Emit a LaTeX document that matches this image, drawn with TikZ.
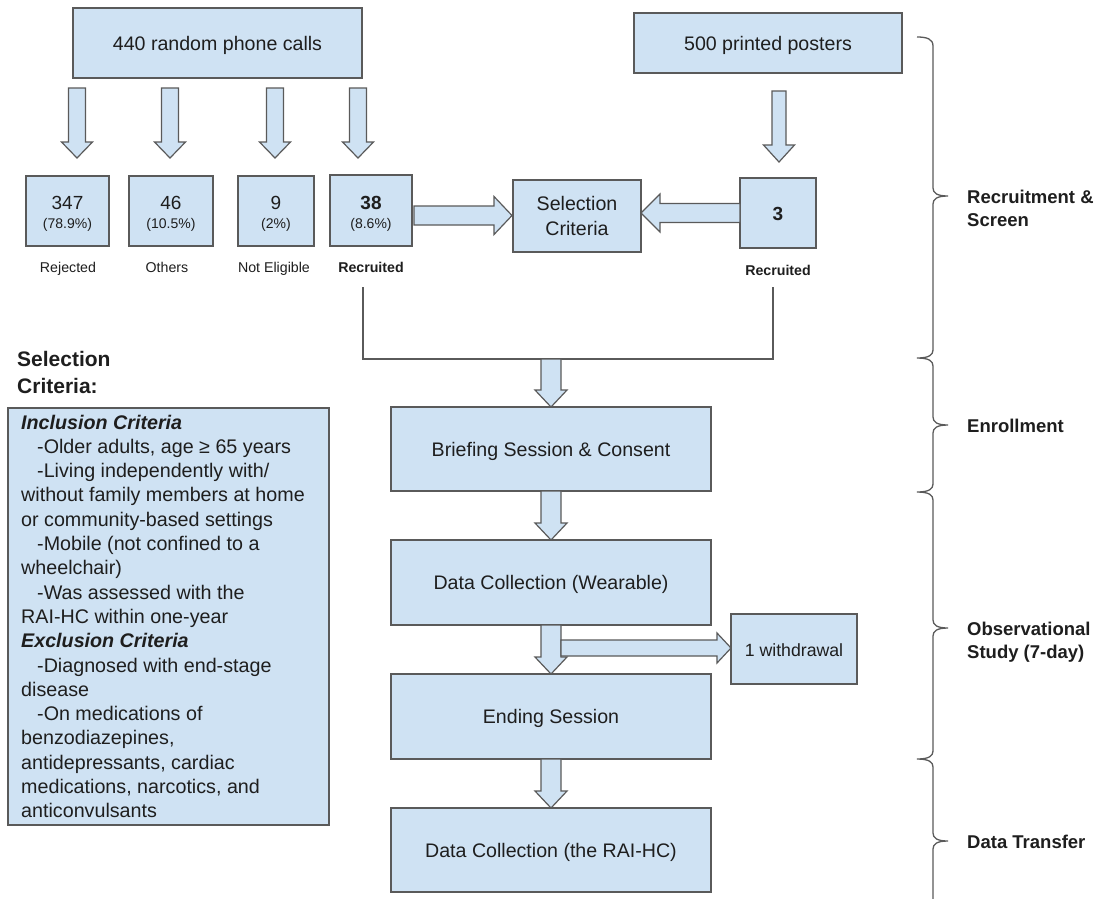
\documentclass[tikz,border=0pt]{standalone}
\usepackage{fontspec}
\setmainfont{Liberation Sans}
\definecolor{boxfill}{HTML}{CFE2F3}
\definecolor{boxline}{HTML}{5A5A5A}
\definecolor{txt}{HTML}{1E1E1E}
\newcommand\blkdown[6]{\filldraw[arrowbox] ({#1-#4},#2) -- ({#1+#4},#2) -- ({#1+#4},{#3-#6}) -- ({#1+#5},{#3-#6}) -- (#1,#3) -- ({#1-#5},{#3-#6}) -- ({#1-#4},{#3-#6}) -- cycle;}
\newcommand\blkright[6]{\filldraw[arrowbox] (#1,{#3-#4}) -- ({#2-#6},{#3-#4}) -- ({#2-#6},{#3-#5}) -- (#2,#3) -- ({#2-#6},{#3+#5}) -- ({#2-#6},{#3+#4}) -- (#1,{#3+#4}) -- cycle;}
\newcommand\blkleft[6]{\filldraw[arrowbox] (#1,{#3-#4}) -- ({#2+#6},{#3-#4}) -- ({#2+#6},{#3-#5}) -- (#2,#3) -- ({#2+#6},{#3+#5}) -- ({#2+#6},{#3+#4}) -- (#1,{#3+#4}) -- cycle;}
\begin{document}
\begin{tikzpicture}[x=1pt,y=-1pt,line join=miter,
  box/.style={draw=boxline,fill=boxfill,line width=1.3pt,inner sep=0pt},
  arrowbox/.style={draw=boxline,fill=boxfill,line width=1.2pt},
  main/.style={text=txt,inner sep=0pt,anchor=base,font=\fontsize{19.6}{24}\selectfont},
  num/.style={text=txt,inner sep=0pt,anchor=base,font=\fontsize{19}{22}\selectfont},
  pct/.style={text=txt,inner sep=0pt,anchor=base,font=\fontsize{14}{16}\selectfont},
  lab/.style={text=txt,inner sep=0pt,anchor=base,font=\fontsize{14.2}{16}\selectfont},
  blab/.style={lab,font=\fontsize{14.2}{16}\selectfont\bfseries},
  phase/.style={text=txt,inner sep=0pt,anchor=base west,font=\fontsize{18.5}{23}\selectfont\bfseries},
  crit/.style={text=txt,inner sep=0pt,anchor=base west,font=\fontsize{19.7}{24}\selectfont},
  conn/.style={draw=boxline,line width=1.3pt},
  brace/.style={draw=boxline,line width=1.3pt}]
\useasboundingbox (0,0) rectangle (1111,898);
\fill[white] (0,0) rectangle (1111,898);

% ---- top boxes
\node[box,minimum width=289pt,minimum height=70pt] (calls) at (217.5,43) {};
\node[main] (callsT) at (217.5,50) {440 random phone calls};
\node[box,minimum width=268pt,minimum height=60pt] (posters) at (768,43) {};
\node[main] (postersT) at (768,50) {500 printed posters};

% ---- down arrows from calls / posters
\blkdown{77}{88}{158}{8.5}{15.5}{16}
\blkdown{170}{88}{158}{8.5}{15.5}{16}
\blkdown{275}{88}{158}{8.5}{15.5}{16}
\blkdown{358}{88}{158}{8.5}{15.5}{16}
\blkdown{779}{91}{162}{7}{15.5}{17}

% ---- outcome boxes
\node[box,minimum width=83pt,minimum height=70pt] (b347) at (67.5,211) {};
\node[num] (b347n) at (67.5,209) {347};
\node[pct] (b347p) at (67.5,228) {(78.9\%)};
\node[lab] (rej) at (68,272) {Rejected};

\node[box,minimum width=84pt,minimum height=70pt] (b46) at (171,211) {};
\node[num] (b46n) at (171,209) {46};
\node[pct] (b46p) at (171,228) {(10.5\%)};
\node[lab] (oth) at (167,272) {Others};

\node[box,minimum width=76pt,minimum height=70pt] (b9) at (276,211) {};
\node[num] (b9n) at (276,209) {9};
\node[pct] (b9p) at (276,228) {(2\%)};
\node[lab] (noel) at (274,272) {Not Eligible};

\node[box,minimum width=82pt,minimum height=71pt] (b38) at (371,210.5) {};
\node[num,font=\fontsize{19}{22}\selectfont\bfseries] (b38n) at (371,209) {38};
\node[pct] (b38p) at (371,228) {(8.6\%)};
\node[blab] (rec1) at (371,272) {Recruited};

\node[box,minimum width=128pt,minimum height=72pt] (sel) at (577,216) {};
\node[main] (selT1) at (577,210) {Selection};
\node[main] (selT2) at (577,235) {Criteria};

\node[box,minimum width=76pt,minimum height=70pt] (b3) at (778,213) {};
\node[num,font=\fontsize{19}{22}\selectfont\bfseries] (b3n) at (778,220) {3};
\node[blab] (rec2) at (778,275) {Recruited};

% ---- horizontal arrows to selection criteria
\blkright{414}{512}{215.5}{9.5}{19}{18}
\blkleft{740}{641}{213}{9.5}{19}{19}

% ---- merge connector
\coordinate (mL) at (363,287);
\coordinate (mR) at (773,287);
\coordinate (mLb) at (363,359);
\coordinate (mRb) at (773,359);
\draw[conn] (mL) -- (mLb) -- (mRb) -- (mR);

% ---- main column
\node[box,minimum width=320pt,minimum height=84pt] (brief) at (551,449) {};
\node[main] (briefT) at (551,456) {Briefing Session \& Consent};
\node[box,minimum width=320pt,minimum height=85pt] (wear) at (551,582.5) {};
\node[main] (wearT) at (551,589.5) {Data Collection (Wearable)};
\node[box,minimum width=320pt,minimum height=85pt] (endg) at (551,716.5) {};
\node[main] (endgT) at (551,723.5) {Ending Session};
\node[box,minimum width=320pt,minimum height=84pt] (rai) at (551,850) {};
\node[main] (raiT) at (551,857) {Data Collection (the RAI-HC)};

\blkdown{551}{359}{407}{10}{16}{17}
\blkdown{551}{491}{540}{10}{16}{17}
\blkdown{551}{625}{674}{10}{16}{17}
\blkdown{551}{759}{808}{10}{16}{17}

% ---- withdrawal
\blkright{561}{731}{648}{8}{15}{14}
\node[box,minimum width=126pt,minimum height=70pt] (wd) at (794,649) {};
\node[main,font=\fontsize{17.7}{20}\selectfont] (wdT) at (794,656) {1 withdrawal};

% ---- selection criteria panel
\node[text=txt,inner sep=0pt,anchor=base west,font=\fontsize{21}{26}\selectfont\bfseries] (h1) at (17,366) {Selection};
\node[text=txt,inner sep=0pt,anchor=base west,font=\fontsize{21}{26}\selectfont\bfseries] (h2) at (17,393) {Criteria:};
\node[box,minimum width=321pt,minimum height=417pt] (crit) at (168.5,616.5) {};
\node[crit,font=\fontsize{19.7}{24}\selectfont\bfseries\itshape] (c1) at (21,429) {Inclusion Criteria};
\node[crit] (c2) at (37,453.3) {-Older adults, age ≥ 65 years};
\node[crit] (c3) at (37,477.6) {-Living independently with/};
\node[crit] (c4) at (21,501.9) {without family members at home};
\node[crit] (c5) at (21,526.2) {or community-based settings};
\node[crit] (c6) at (37,550.5) {-Mobile (not confined to a};
\node[crit] (c7) at (21,574.8) {wheelchair)};
\node[crit] (c8) at (37,599.1) {-Was assessed with the};
\node[crit] (c9) at (21,623.4) {RAI-HC within one-year};
\node[crit,font=\fontsize{19.7}{24}\selectfont\bfseries\itshape] (c10) at (21,647.7) {Exclusion Criteria};
\node[crit] (c11) at (37,672) {-Diagnosed with end-stage};
\node[crit] (c12) at (21,696.3) {disease};
\node[crit] (c13) at (37,720.6) {-On medications of};
\node[crit] (c14) at (21,744.9) {benzodiazepines,};
\node[crit] (c15) at (21,769.2) {antidepressants, cardiac};
\node[crit] (c16) at (21,793.5) {medications, narcotics, and};
\node[crit] (c17) at (21,817.8) {anticonvulsants};

% ---- phase brace
\draw[brace] (917,37) .. controls (927,37) and (933,39) .. (933,46)
  -- (933,188) .. controls (933,193) and (937,196) .. (948,196) .. controls (937,196) and (933,199) .. (933,204)
  -- (933,350) .. controls (933,355) and (929,358) .. (917,358) .. controls (929,358) and (933,361) .. (933,366)
  -- (933,417) .. controls (933,422) and (937,425) .. (948,425) .. controls (937,425) and (933,428) .. (933,433)
  -- (933,484) .. controls (933,489) and (929,492) .. (917,492) .. controls (929,492) and (933,495) .. (933,500)
  -- (933,620) .. controls (933,625) and (937,628) .. (948,628) .. controls (937,628) and (933,631) .. (933,636)
  -- (933,751) .. controls (933,756) and (929,759) .. (917,759) .. controls (929,759) and (933,762) .. (933,767)
  -- (933,833) .. controls (933,838) and (937,841) .. (948,841) .. controls (937,841) and (933,844) .. (933,849)
  -- (933,900);
\node[phase] (p1a) at (967,203) {Recruitment \&};
\node[phase] (p1b) at (967,226) {Screen};
\node[phase] (p2) at (967,432) {Enrollment};
\node[phase] (p3a) at (967,635) {Observational};
\node[phase] (p3b) at (967,658) {Study (7-day)};
\node[phase] (p4) at (967,848) {Data Transfer};
\end{tikzpicture}
\end{document}
